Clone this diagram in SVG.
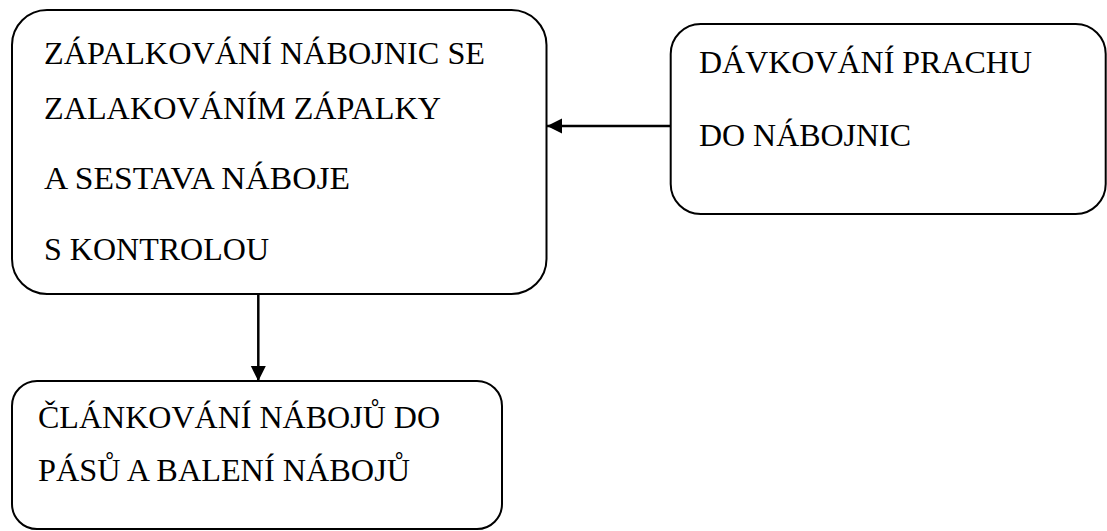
<svg xmlns="http://www.w3.org/2000/svg" width="1107" height="531" viewBox="0 0 1107 531">
<style>
.box{fill:#fff;stroke:#000;stroke-width:2}
.t{font-family:'Liberation Serif','DejaVu Serif',serif;font-size:32px;fill:#000}
.c{stroke:#000;stroke-width:2.5;fill:none}
</style>
<defs>
<marker id="ah" markerUnits="userSpaceOnUse" markerWidth="16" markerHeight="16" viewBox="0 0 16 16" refX="15" refY="8" orient="auto">
<path d="M0,0.5 L15,8 L0,15.5 Z" fill="#000"/>
</marker>
</defs>
<rect width="1107" height="531" fill="#fff"/>
<g id="n1">
<rect class="box" x="12" y="10" width="534.5" height="284" rx="35" ry="35"/>
<text class="t" x="44" y="64" textLength="441" lengthAdjust="spacingAndGlyphs">ZÁPALKOVÁNÍ NÁBOJNIC SE</text>
<text class="t" x="44" y="119" textLength="397" lengthAdjust="spacingAndGlyphs">ZALAKOVÁNÍM ZÁPALKY</text>
<text class="t" x="44" y="189" textLength="306" lengthAdjust="spacingAndGlyphs">A SESTAVA NÁBOJE</text>
<text class="t" x="44" y="260" textLength="225" lengthAdjust="spacingAndGlyphs">S KONTROLOU</text>
</g>
<g id="n2">
<rect class="box" x="670.7" y="24" width="435" height="190" rx="30" ry="30"/>
<text class="t" x="699" y="73" textLength="333" lengthAdjust="spacingAndGlyphs">DÁVKOVÁNÍ PRACHU</text>
<text class="t" x="699" y="146" textLength="212" lengthAdjust="spacingAndGlyphs">DO NÁBOJNIC</text>
</g>
<g id="n3">
<rect class="box" x="12" y="381" width="490" height="148" rx="25" ry="25"/>
<text class="t" x="38" y="428" textLength="402" lengthAdjust="spacingAndGlyphs">ČLÁNKOVÁNÍ NÁBOJŮ DO</text>
<text class="t" x="38" y="481" textLength="372" lengthAdjust="spacingAndGlyphs">PÁSŮ A BALENÍ NÁBOJŮ</text>
</g>
<g id="connectors">
<line class="c" x1="670.7" y1="126" x2="547" y2="126" marker-end="url(#ah)"/>
<line class="c" x1="258.3" y1="294" x2="258.3" y2="381" marker-end="url(#ah)"/>
</g>
</svg>
